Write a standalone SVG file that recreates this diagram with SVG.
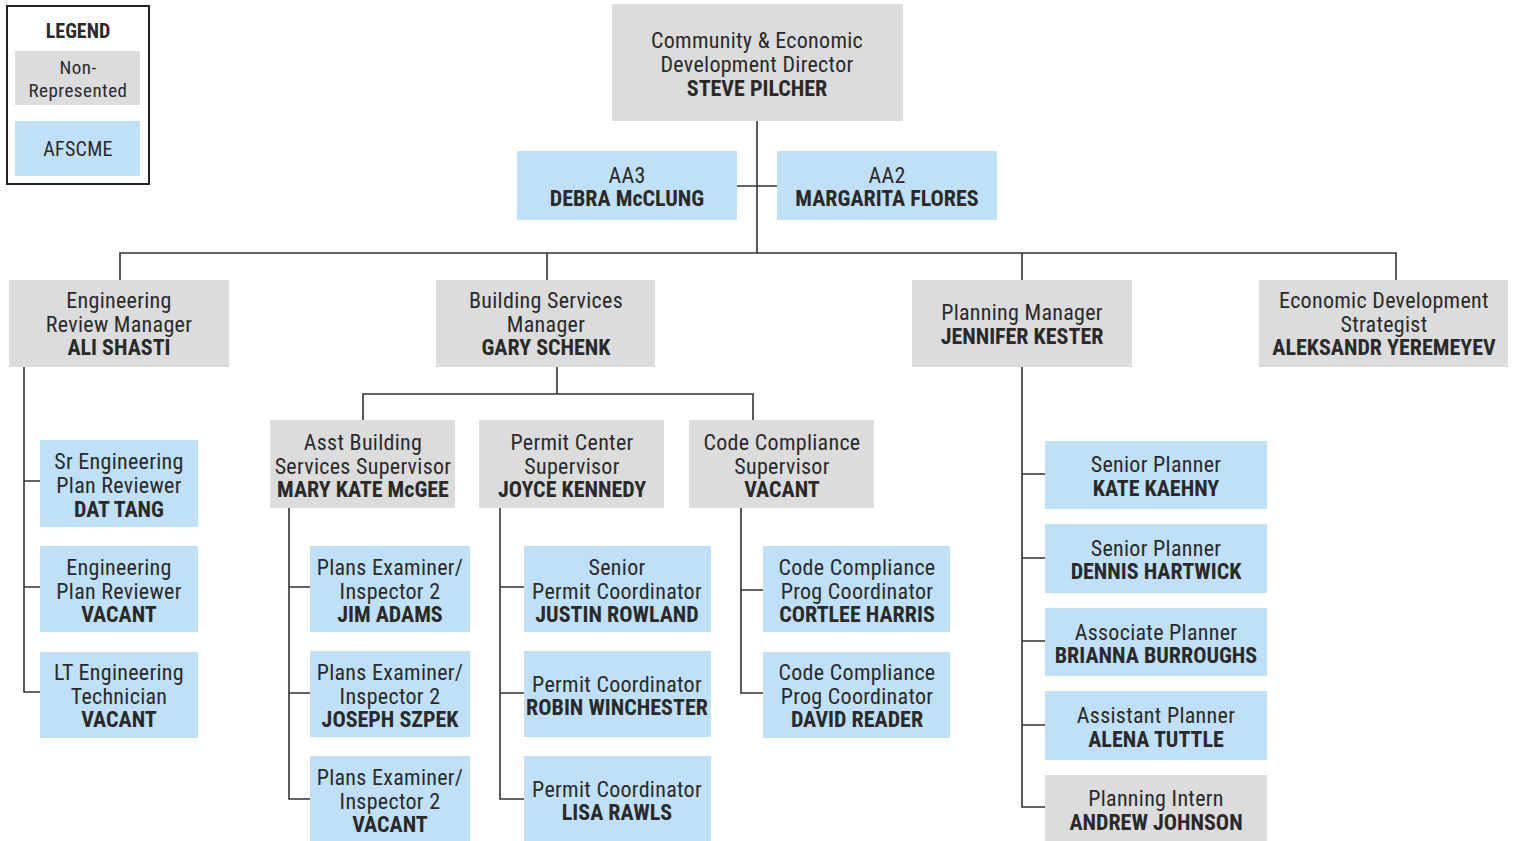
<svg xmlns="http://www.w3.org/2000/svg" width="1513" height="841" viewBox="0 0 1513 841">
  <style>
    .nr { fill: #dcdcdc; }
    .af { fill: #bfe0f6; }
    .lnk { fill: none; stroke: #333; stroke-width: 1.6; }
    text { font-family: "Liberation Sans Narrow", "Roboto Condensed", "Liberation Sans", sans-serif; font-size: 22px; letter-spacing: 0.3px; fill: #2a2a2a; text-anchor: middle; dominant-baseline: central; }
    .b { font-weight: bold; letter-spacing: 0; }
    .lg { font-size: 20px; }
    .lg2 { font-size: 19px; letter-spacing: 0.5px; }
  </style>
  <rect width="1513" height="841" fill="#ffffff"/>

  <!-- legend -->
  <g id="legend">
    <rect x="7" y="6" width="142" height="178" fill="none" stroke="#222" stroke-width="2"/>
    <text x="78" y="31" class="b lg">LEGEND</text>
    <rect class="nr" x="15" y="51" width="125" height="54"/>
    <text x="78" y="67" class="lg2">Non-</text>
    <text x="78" y="90" class="lg2">Represented</text>
    <rect class="af" x="15" y="121" width="125" height="55"/>
    <text x="78" y="149" class="lg">AFSCME</text>
  </g>

  <!-- connectors -->
  <g id="connectors" class="lnk">
    <path d="M757 121V253M737 186H777"/>
    <path d="M120 280V253H1396V280M547 253V280M1022 253V280"/>
    <path d="M24 367V692H40M24 481H40M24 587H40"/>
    <path d="M557 367V394M363 420V394H753V420"/>
    <path d="M289 508V799H310M289 587H310M289 693H310"/>
    <path d="M500 508V799H524M500 587H524M500 693H524"/>
    <path d="M741 508V693H763M741 590H763"/>
    <path d="M1022 367V807H1045M1022 474H1045M1022 558H1045M1022 641H1045M1022 725H1045"/>
  </g>

  <!-- top level -->
  <g id="director">
    <rect class="nr" x="612" y="4" width="291" height="117"/>
    <text x="757" y="40">Community &amp; Economic</text>
    <text x="757" y="64">Development Director</text>
    <text x="757" y="88" class="b">STEVE PILCHER</text>
  </g>
  <g id="aa3">
    <rect class="af" x="517" y="151" width="220" height="69"/>
    <text x="627" y="175">AA3</text>
    <text x="627" y="198" class="b">DEBRA McCLUNG</text>
  </g>
  <g id="aa2">
    <rect class="af" x="777" y="151" width="220" height="69"/>
    <text x="887" y="175">AA2</text>
    <text x="887" y="198" class="b">MARGARITA FLORES</text>
  </g>

  <!-- managers -->
  <g id="eng-manager">
    <rect class="nr" x="9" y="280" width="220" height="87"/>
    <text x="119" y="300">Engineering</text>
    <text x="119" y="324">Review Manager</text>
    <text x="119" y="347" class="b">ALI SHASTI</text>
  </g>
  <g id="bldg-manager">
    <rect class="nr" x="436" y="280" width="219" height="87"/>
    <text x="546" y="300">Building Services</text>
    <text x="546" y="324">Manager</text>
    <text x="546" y="347" class="b">GARY SCHENK</text>
  </g>
  <g id="planning-manager">
    <rect class="nr" x="912" y="280" width="220" height="87"/>
    <text x="1022" y="312">Planning Manager</text>
    <text x="1022" y="336" class="b">JENNIFER KESTER</text>
  </g>
  <g id="econ-strategist">
    <rect class="nr" x="1259" y="280" width="249" height="87"/>
    <text x="1384" y="300">Economic Development</text>
    <text x="1384" y="324">Strategist</text>
    <text x="1384" y="347" class="b">ALEKSANDR YEREMEYEV</text>
  </g>

  <!-- engineering staff -->
  <g id="sr-eng-reviewer">
    <rect class="af" x="40" y="440" width="158" height="87"/>
    <text x="119" y="461">Sr Engineering</text>
    <text x="119" y="485">Plan Reviewer</text>
    <text x="119" y="509" class="b">DAT TANG</text>
  </g>
  <g id="eng-reviewer">
    <rect class="af" x="40" y="546" width="158" height="86"/>
    <text x="119" y="567">Engineering</text>
    <text x="119" y="591">Plan Reviewer</text>
    <text x="119" y="614" class="b">VACANT</text>
  </g>
  <g id="lt-eng-tech">
    <rect class="af" x="40" y="652" width="158" height="86"/>
    <text x="119" y="672">LT Engineering</text>
    <text x="119" y="696">Technician</text>
    <text x="119" y="719" class="b">VACANT</text>
  </g>

  <!-- building services supervisors -->
  <g id="asst-bldg-supervisor">
    <rect class="nr" x="270" y="420" width="185" height="88"/>
    <text x="363" y="442">Asst Building</text>
    <text x="363" y="466">Services Supervisor</text>
    <text x="363" y="489" class="b">MARY KATE McGEE</text>
  </g>
  <g id="permit-supervisor">
    <rect class="nr" x="479" y="420" width="185" height="88"/>
    <text x="572" y="442">Permit Center</text>
    <text x="572" y="466">Supervisor</text>
    <text x="572" y="489" class="b">JOYCE KENNEDY</text>
  </g>
  <g id="code-supervisor">
    <rect class="nr" x="689" y="420" width="185" height="88"/>
    <text x="782" y="442">Code Compliance</text>
    <text x="782" y="466">Supervisor</text>
    <text x="782" y="489" class="b">VACANT</text>
  </g>

  <!-- plans examiners -->
  <g id="examiner-1">
    <rect class="af" x="310" y="546" width="160" height="86"/>
    <text x="390" y="567">Plans Examiner/</text>
    <text x="390" y="591">Inspector 2</text>
    <text x="390" y="614" class="b">JIM ADAMS</text>
  </g>
  <g id="examiner-2">
    <rect class="af" x="310" y="651" width="160" height="86"/>
    <text x="390" y="672">Plans Examiner/</text>
    <text x="390" y="696">Inspector 2</text>
    <text x="390" y="719" class="b">JOSEPH SZPEK</text>
  </g>
  <g id="examiner-3">
    <rect class="af" x="310" y="756" width="160" height="90"/>
    <text x="390" y="777">Plans Examiner/</text>
    <text x="390" y="801">Inspector 2</text>
    <text x="390" y="824" class="b">VACANT</text>
  </g>

  <!-- permit coordinators -->
  <g id="sr-permit-coord">
    <rect class="af" x="524" y="546" width="187" height="86"/>
    <text x="617" y="567">Senior</text>
    <text x="617" y="591">Permit Coordinator</text>
    <text x="617" y="614" class="b">JUSTIN ROWLAND</text>
  </g>
  <g id="permit-coord-1">
    <rect class="af" x="524" y="651" width="187" height="86"/>
    <text x="617" y="684">Permit Coordinator</text>
    <text x="617" y="707" class="b">ROBIN WINCHESTER</text>
  </g>
  <g id="permit-coord-2">
    <rect class="af" x="524" y="756" width="187" height="90"/>
    <text x="617" y="789">Permit Coordinator</text>
    <text x="617" y="812" class="b">LISA RAWLS</text>
  </g>

  <!-- code compliance coordinators -->
  <g id="code-coord-1">
    <rect class="af" x="763" y="546" width="187" height="86"/>
    <text x="857" y="567">Code Compliance</text>
    <text x="857" y="591">Prog Coordinator</text>
    <text x="857" y="614" class="b">CORTLEE HARRIS</text>
  </g>
  <g id="code-coord-2">
    <rect class="af" x="763" y="652" width="187" height="86"/>
    <text x="857" y="672">Code Compliance</text>
    <text x="857" y="696">Prog Coordinator</text>
    <text x="857" y="719" class="b">DAVID READER</text>
  </g>

  <!-- planning staff -->
  <g id="sr-planner-1">
    <rect class="af" x="1045" y="441" width="222" height="68"/>
    <text x="1156" y="464">Senior Planner</text>
    <text x="1156" y="488" class="b">KATE KAEHNY</text>
  </g>
  <g id="sr-planner-2">
    <rect class="af" x="1045" y="524" width="222" height="69"/>
    <text x="1156" y="548">Senior Planner</text>
    <text x="1156" y="571" class="b">DENNIS HARTWICK</text>
  </g>
  <g id="assoc-planner">
    <rect class="af" x="1045" y="608" width="222" height="68"/>
    <text x="1156" y="632">Associate Planner</text>
    <text x="1156" y="655" class="b">BRIANNA BURROUGHS</text>
  </g>
  <g id="asst-planner">
    <rect class="af" x="1045" y="691" width="222" height="69"/>
    <text x="1156" y="715">Assistant Planner</text>
    <text x="1156" y="739" class="b">ALENA TUTTLE</text>
  </g>
  <g id="planning-intern">
    <rect class="nr" x="1045" y="775" width="222" height="70"/>
    <text x="1156" y="798">Planning Intern</text>
    <text x="1156" y="822" class="b">ANDREW JOHNSON</text>
  </g>
</svg>
